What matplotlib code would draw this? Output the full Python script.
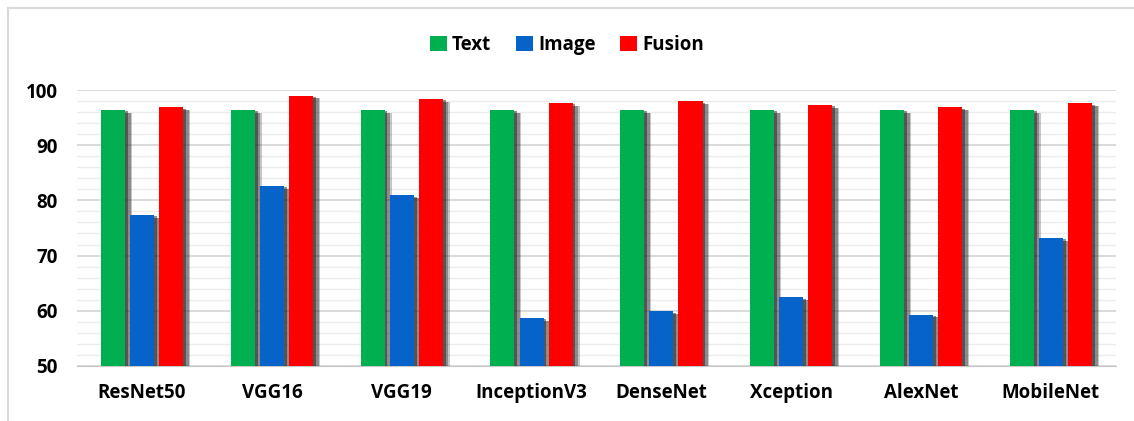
import numpy as np
import matplotlib.pyplot as plt
import matplotlib.patheffects as pe
from matplotlib.lines import Line2D

plt.rcParams['font.family'] = ['Open Sans', 'DejaVu Sans']

models = ['ResNet50', 'VGG16', 'VGG19', 'InceptionV3', 'DenseNet',
          'Xception', 'AlexNet', 'MobileNet']
text_acc = [96.4, 96.4, 96.4, 96.4, 96.4, 96.4, 96.4, 96.4]
image_acc = [77.4, 82.6, 80.9, 58.7, 59.9, 62.4, 59.3, 73.2]
fusion_acc = [96.9, 99.0, 98.4, 97.7, 98.0, 97.3, 96.9, 97.6]

series = [('Text', text_acc, '#00b050'),
          ('Image', image_acc, '#0563c9'),
          ('Fusion', fusion_acc, '#ff0000')]

fig = plt.figure(figsize=(11.34, 4.21), dpi=100)
ax = fig.add_axes([0.068, 0.131, 0.916, 0.655])

x = np.arange(len(models))
w = 0.185
step = 0.224
# soft drop shadow, built from a few offset copies
shadow = [pe.SimplePatchShadow(offset=(5, -2), shadow_rgbFace='#202020', alpha=0.25),
          pe.SimplePatchShadow(offset=(4, -2), shadow_rgbFace='#202020', alpha=0.35),
          pe.SimplePatchShadow(offset=(2, -1), shadow_rgbFace='#202020', alpha=0.5),
          pe.Normal()]
for i, (name, vals, col) in enumerate(series):
    h = np.array(vals) - 50
    bars = ax.bar(x + (i - 1) * step, h, w, bottom=50, color=col, label=name, zorder=3)
    for b in bars:
        b.set_path_effects(shadow)

ax.set_ylim(50, 100)
ax.set_xlim(-0.5, 7.5)
ax.set_yticks(np.arange(50, 101, 10))
ax.set_yticks(np.arange(50, 101, 2), minor=True)
ax.grid(axis='y', which='major', color='#d4d4d4', lw=1.2, zorder=0)
ax.grid(axis='y', which='minor', color='#ececec', lw=1.0, zorder=0)
ax.tick_params(axis='both', which='both', length=0)
ax.tick_params(axis='y', pad=14)
ax.tick_params(axis='x', pad=12)
ax.set_xticks(x)
ax.set_xticklabels(models, fontsize=13.5, fontweight='bold')
for t in ax.get_yticklabels():
    t.set_fontsize(13.5)
    t.set_fontweight('bold')
for s in ['left', 'right', 'top']:
    ax.spines[s].set_visible(False)
ax.spines['bottom'].set_color('#c8c8c8')

leg = fig.legend(loc='center', bbox_to_anchor=(0.5, 0.893), ncol=3, frameon=False,
                 prop={'weight': 'bold', 'size': 13.5}, handlelength=0.9,
                 handleheight=0.9, handletextpad=0.3, columnspacing=1.3)
for hnd in leg.legend_handles:
    hnd.set_path_effects([pe.Normal()])

fig.add_artist(Line2D([7.5 / 1134, 1.0], [1 - 8 / 421, 1 - 8 / 421],
                      transform=fig.transFigure, color='#d9d9d9', lw=1.5))
fig.add_artist(Line2D([7.5 / 1134, 7.5 / 1134], [0, 1 - 8 / 421],
                      transform=fig.transFigure, color='#d9d9d9', lw=1.5))

fig.savefig('out.png', dpi=100)
